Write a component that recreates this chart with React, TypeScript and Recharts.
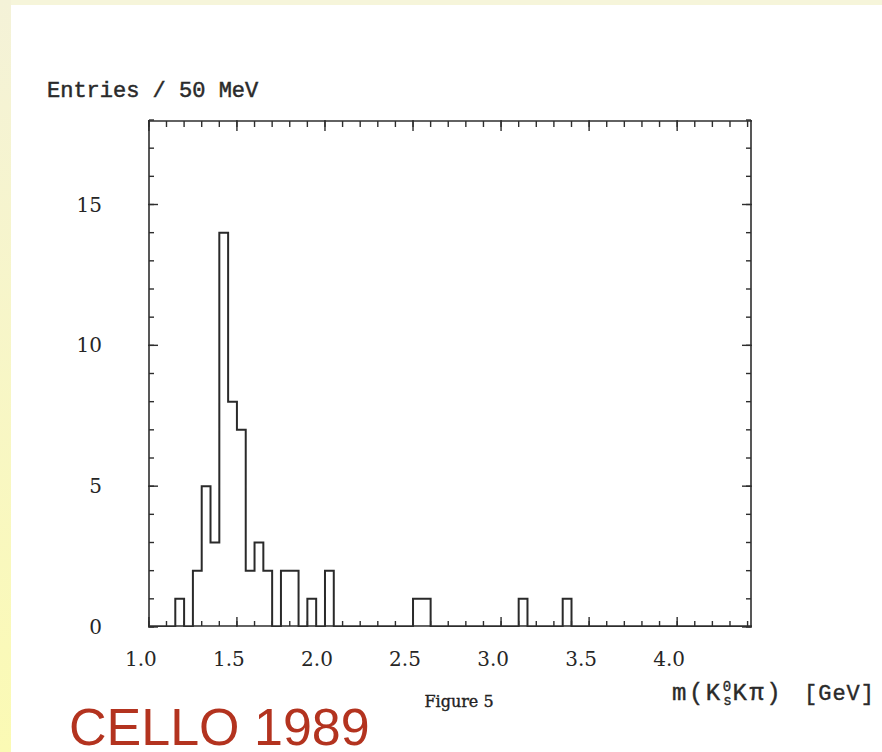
import { LineChart, Line, XAxis, YAxis } from 'recharts'

// lower edges of the 50 MeV bins (GeV), plus the closing edge
const binEdges = [
  1.0, 1.05, 1.1, 1.15, 1.2, 1.25, 1.3, 1.35, 1.4, 1.45,
  1.5, 1.55, 1.6, 1.65, 1.7, 1.75, 1.8, 1.85, 1.9, 1.95,
  2.0, 2.05, 2.1, 2.15, 2.2, 2.25, 2.3, 2.35, 2.4, 2.45,
  2.5, 2.55, 2.6, 2.65, 2.7, 2.75, 2.8, 2.85, 2.9, 2.95,
  3.0, 3.05, 3.1, 3.15, 3.2, 3.25, 3.3, 3.35, 3.4, 3.45,
  3.5, 3.55, 3.6, 3.65, 3.7, 3.75, 3.8, 3.85, 3.9, 3.95,
  4.0, 4.05, 4.1, 4.15, 4.2, 4.25, 4.3, 4.35, 4.4,
]

// entries per bin
const counts = [
  0, 0, 0, 1, 0, 2, 5, 3, 14, 8,
  7, 2, 3, 2, 0, 2, 2, 0, 1, 0,
  2, 0, 0, 0, 0, 0, 0, 0, 0, 0,
  1, 1, 0, 0, 0, 0, 0, 0, 0, 0,
  0, 0, 1, 0, 0, 0, 0, 1, 0, 0,
  0, 0, 0, 0, 0, 0, 0, 0, 0, 0,
  0, 0, 0, 0, 0, 0, 0, 0,
]

const xMajorTicks = [1.0, 1.5, 2.0, 2.5, 3.0, 3.5, 4.0]
const xMinorTicks = [
  1.0, 1.1, 1.2, 1.3, 1.4, 1.5, 1.6, 1.7, 1.8, 1.9, 2.0, 2.1, 2.2, 2.3, 2.4, 2.5, 2.6, 2.7,
  2.8, 2.9, 3.0, 3.1, 3.2, 3.3, 3.4, 3.5, 3.6, 3.7, 3.8, 3.9, 4.0, 4.1, 4.2, 4.3, 4.4,
]
const yMajorTicks = [0, 5, 10, 15]
const yMinorTicks = [0, 1, 2, 3, 4, 5, 6, 7, 8, 9, 10, 11, 12, 13, 14, 15, 16, 17, 18]

const xDomain = [0.995, 4.425]
const yDomain = [0, 18]

const ink = '#2e2e2e'
const serif = '"DejaVu Serif", serif'
const mono = '"Liberation Mono", monospace'

const data = binEdges.map((x, i) => ({ x, n: i < counts.length ? counts[i] : 0 }))

const tickStyle = { fill: '#262626', fontSize: 20, fontFamily: serif }
const frame = { stroke: ink, strokeWidth: 1.6 }
const tl = { stroke: ink, strokeWidth: 1.4 }
const NoLabel = () => <g />

// inward tick rows along the frame (thin mirrored axes so they barely stack)
const xEdge = (id: string, side: 'top' | 'bottom', ticks: number[], size: number, line: boolean) => (
  <XAxis
    key={id} xAxisId={id} orientation={side} dataKey="x" type="number" domain={xDomain} allowDataOverflow
    mirror height={1} ticks={ticks} interval={0} tickSize={size} tick={NoLabel} tickLine={tl}
    axisLine={line ? frame : false} stroke={ink}
  />
)
const yEdge = (id: string, side: 'left' | 'right', ticks: number[], size: number, line: boolean) => (
  <YAxis
    key={id} yAxisId={id} orientation={side} type="number" domain={yDomain} allowDataOverflow
    mirror width={1} ticks={ticks} interval={0} tickSize={size} tick={NoLabel} tickLine={tl}
    axisLine={line ? frame : false} stroke={ink}
  />
)

export default function App() {
  return (
    <div style={{ position: 'fixed', left: 0, top: 0, width: 882, height: 752, background: '#fff', overflow: 'hidden' }}>
      <div style={{ position: 'absolute', left: 0, top: 0, width: 882, height: 5, background: '#f6f5da' }} />
      <div
        style={{
          position: 'absolute', left: 0, top: 0, width: 11, height: 752,
          background: 'linear-gradient(#f4f2d8, #fbfab4)',
        }}
      />
      <div style={{ position: 'absolute', left: 0, top: 0 }}>
        <LineChart width={882} height={752} data={data} margin={{ top: 120, right: 130, bottom: 65, left: 88 }}>
          <XAxis
            xAxisId="lab" dataKey="x" type="number" domain={xDomain} allowDataOverflow
            ticks={xMajorTicks} interval={0} height={60} tickLine={false} axisLine={false}
            tickSize={6} tickMargin={19} tick={{ ...tickStyle, dx: -8 }}
            tickFormatter={(v: number) => v.toFixed(1)}
          />
          {xEdge('bMin', 'bottom', xMinorTicks, 5, true)}
          {xEdge('bMaj', 'bottom', xMajorTicks, 10, false)}
          {xEdge('tMin', 'top', xMinorTicks, 6, true)}
          {xEdge('tMaj', 'top', xMajorTicks, 11, false)}
          <YAxis
            yAxisId="lab" type="number" domain={yDomain} allowDataOverflow ticks={yMajorTicks} interval={0}
            width={60} tickLine={false} axisLine={false} tickSize={6} tickMargin={40} tick={tickStyle}
          />
          {yEdge('lMin', 'left', yMinorTicks, 5, true)}
          {yEdge('lMaj', 'left', yMajorTicks, 10, false)}
          {yEdge('rMin', 'right', yMinorTicks, 5, true)}
          {yEdge('rMaj', 'right', yMajorTicks, 10, false)}
          <Line
            xAxisId="lab" yAxisId="lab" type="stepAfter" dataKey="n" stroke="#2a2a2a" strokeWidth={2}
            dot={false} activeDot={false} isAnimationActive={false}
          />
        </LineChart>
      </div>
      <svg width={882} height={752} style={{ position: 'absolute', left: 0, top: 0, pointerEvents: 'none' }}>
        <text x={47} y={97} fontFamily={mono} fontSize={22} fill="#2a2a2a" stroke="#2a2a2a" strokeWidth={0.5}>
          Entries / 50 MeV
        </text>
        <text x={459} y={707} textAnchor="middle" fontFamily={serif} fontSize={16} fill="#222" stroke="#222" strokeWidth={0.35}>
          Figure 5
        </text>
        <text x={672} y={700} fontFamily={mono} fontSize={24} letterSpacing={2.5} fill="#2a2a2a" stroke="#2a2a2a" strokeWidth={0.4}>
          m(K
          <tspan fontSize={14} letterSpacing={0} dy={-9}>0</tspan>
          <tspan fontSize={14} letterSpacing={0} dx={-8} dy={14}>s</tspan>
          <tspan dx={1} dy={-5}>Kπ)</tspan>
          <tspan x={804} fontSize={22} letterSpacing={1}>[GeV]</tspan>
        </text>
        <text x={69} y={745} fontFamily='"Liberation Sans", Arial, sans-serif' fontSize={52} fill="#b3331f">
          CELLO 1989
        </text>
      </svg>
    </div>
  )
}
